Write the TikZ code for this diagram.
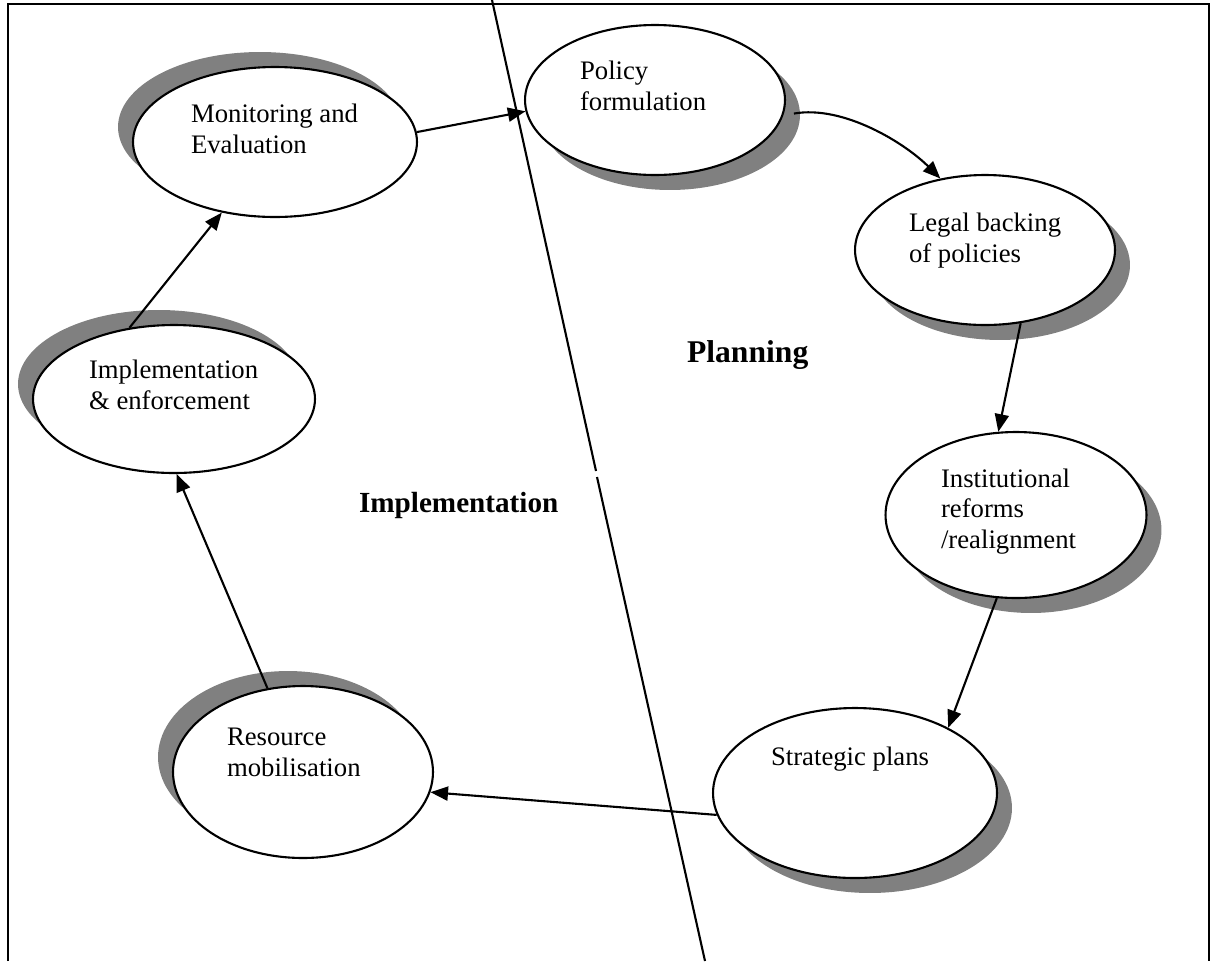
\documentclass[tikz,border=0pt]{standalone}
\usepackage{fontspec}
\setmainfont{Liberation Serif}
\usetikzlibrary{shapes.geometric,shadows,arrows.meta}
\definecolor{shadegray}{RGB}{128,128,128}
\begin{document}
\begin{tikzpicture}[
        x=0.02cm,
        y=-0.02cm,
        line width=1.2pt,
        font=\fontsize{15.2}{17.1}\selectfont
    ]
    \tikzset{
        myellipse/.style = {ellipse, draw=black, fill=white, inner sep=0pt},
        shadowr/.style = {drop shadow={shadow xshift=0.3cm, shadow yshift=-0.3cm, fill=shadegray, opacity=1}},
        shadowl/.style = {drop shadow={shadow xshift=-0.3cm, shadow yshift=0.3cm, fill=shadegray, opacity=1}},
        mytext/.style = {anchor=base west, align=left, inner sep=0pt},
        myhead/.style = {anchor=base west, inner sep=0pt},
        myarrow/.style = {-{Triangle[length=10pt, width=8pt]}},
    }
        \useasboundingbox (0,0) rectangle (1213,961);
        % frame, open at the bottom
        \draw (8,961) -- (8,4) -- (1209,4) -- (1209,961);
        % dividing line
        \draw (492,0) -- (596,471);
        \draw (597,477) -- (705,961);
        %
        \node[myellipse, shadowl, minimum width=5.68cm, minimum height=3cm] at (275,142) (mon) {};
        \node[myellipse, shadowr, minimum width=5.2cm, minimum height=3cm] at (655,100) (pol) {};
        \node[myellipse, shadowr, minimum width=5.2cm, minimum height=3cm] at (985,250) (leg) {};
        \node[myellipse, shadowr, minimum width=5.22cm, minimum height=3.32cm] at (1016,515) (ins) {};
        \node[myellipse, shadowr, minimum width=5.68cm, minimum height=3.4cm] at (855,793) (str) {};
        \node[myellipse, shadowl, minimum width=5.2cm, minimum height=3.44cm] at (303,772) (res) {};
        \node[myellipse, shadowl, minimum width=5.64cm, minimum height=2.96cm] at (174,399) (imp) {};
        % texts sit on the baseline of their last line
        \node[mytext] at (190,153) (montxt) {Monitoring and\\Evaluation};
        \node[mytext] at (579,110) (poltxt) {Policy\\formulation};
        \node[mytext] at (908,262) (legtxt) {Legal backing\\of policies};
        \node[mytext] at (940,548) (instxt) {Institutional\\reforms\\/realignment};
        \node[mytext] at (770,765) (strtxt) {Strategic plans};
        \node[mytext] at (226,776) (restxt) {Resource\\mobilisation};
        \node[mytext] at (88,409) (imptxt) {Implementation\\\& enforcement};
        %
        \node[myhead, font=\bfseries\fontsize{18}{20}\selectfont] at (686,362) (plan) {Planning};
        \node[myhead, font=\bfseries\fontsize{16.6}{19}\selectfont] at (358,512) (impl) {Implementation};
        %
        \draw[myarrow] (mon.4) -- (pol.185);
        \draw[myarrow] ([xshift=2mm]pol.-6) to[out=10, in=135, looseness=0.8] (leg.122);
        \draw[myarrow] (leg.-64) -- (ins.102);
        \draw[myarrow] (ins.-103) -- (str.35);
        \draw[myarrow] (str.189) -- (res.-9);
        \draw[myarrow] (res.113) -- (imp.-88);
        \draw[myarrow] (imp.122) -- (mon.233);
    \end{tikzpicture}
\end{document}
